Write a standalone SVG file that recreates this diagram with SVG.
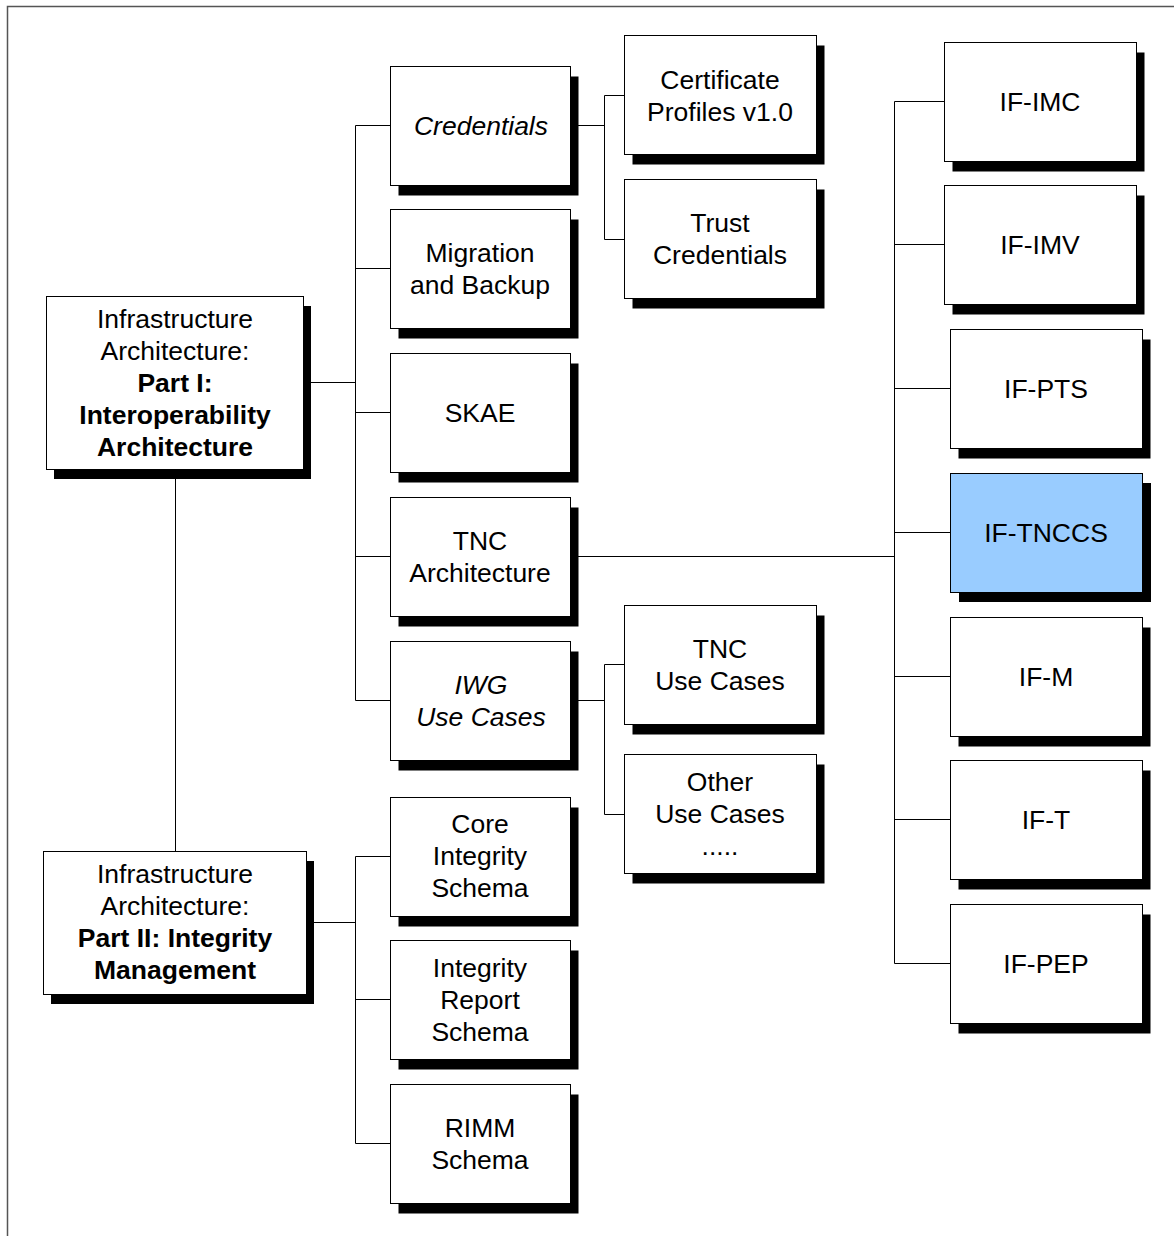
<svg xmlns="http://www.w3.org/2000/svg" width="1174" height="1236" viewBox="0 0 1174 1236">
  <style>
    .box { fill: #ffffff; stroke: #000000; stroke-width: 1; }
    .hl { fill: #99ccff; }
    .shadow { fill: #000000; }
    .wire { fill: none; stroke: #000000; stroke-width: 1; }
    text { font-family: "Liberation Sans", Arial, sans-serif; font-size: 26.5px; fill: #000000; text-anchor: middle; }
    .b { font-weight: bold; }
    .i { font-style: italic; }
  </style>
  <defs>
    <!-- standard node: shadow + white box, 180x119 -->
    <g id="mid">
      <rect class="shadow" x="8" y="10" width="180" height="119"/>
      <rect class="box" x="0" y="0" width="180" height="119"/>
    </g>
    <!-- wider node, 192x119 -->
    <g id="wide">
      <rect class="shadow" x="8" y="10" width="192" height="119"/>
      <rect class="box" x="0" y="0" width="192" height="119"/>
    </g>
  </defs>

  <rect width="1174" height="1236" fill="#ffffff"/>
  <!-- page frame -->
  <path d="M7.5 1236 V6.5 H1174" fill="none" stroke="#555555" stroke-width="1.5"/>

  <!-- connectors -->
  <g id="connectors">
    <path class="wire" d="M175.5 469 V851"/>
    <path class="wire" d="M303 382.5 H355.5 M355.5 125.5 V700.5 M355.5 125.5 H390 M355.5 268.5 H390 M355.5 412.5 H390 M355.5 556.5 H390 M355.5 700.5 H390"/>
    <path class="wire" d="M306 922.5 H355.5 M355.5 856.5 V1143.5 M355.5 856.5 H390 M355.5 999.5 H390 M355.5 1143.5 H390"/>
    <path class="wire" d="M570 125.5 H604.5 M604.5 95.5 V239.5 M604.5 95.5 H624 M604.5 239.5 H624"/>
    <path class="wire" d="M570 700.5 H604.5 M604.5 664.5 V814.5 M604.5 664.5 H624 M604.5 814.5 H624"/>
    <path class="wire" d="M570 556.5 H894.5 M894.5 101.5 V963.5 M894.5 101.5 H944 M894.5 244.5 H944 M894.5 388.5 H950 M894.5 532.5 H951 M894.5 676.5 H950 M894.5 819.5 H950 M894.5 963.5 H951"/>
  </g>

  <!-- root nodes -->
  <g id="part1">
    <rect class="shadow" x="54" y="306" width="257" height="173"/>
    <rect class="box" x="46.5" y="296.5" width="257" height="173"/>
    <text x="175" y="328">Infrastructure</text>
    <text x="175" y="360">Architecture:</text>
    <text class="b" x="175" y="392">Part I:</text>
    <text class="b" x="175" y="424">Interoperability</text>
    <text class="b" x="175" y="456">Architecture</text>
  </g>
  <g id="part2">
    <rect class="shadow" x="51" y="861" width="263" height="143"/>
    <rect class="box" x="43.5" y="851.5" width="263" height="143"/>
    <text x="175" y="883">Infrastructure</text>
    <text x="175" y="915">Architecture:</text>
    <text class="b" x="175" y="947">Part II: Integrity</text>
    <text class="b" x="175" y="979">Management</text>
  </g>

  <!-- Part I children -->
  <g id="credentials">
    <use href="#mid" x="390.5" y="66.5"/>
    <text class="i" x="481" y="135">Credentials</text>
  </g>
  <g id="migration">
    <use href="#mid" x="390.5" y="209.5"/>
    <text x="480" y="262">Migration</text>
    <text x="480" y="294">and Backup</text>
  </g>
  <g id="skae">
    <use href="#mid" x="390.5" y="353.5"/>
    <text x="480" y="422">SKAE</text>
  </g>
  <g id="tnc-arch">
    <use href="#mid" x="390.5" y="497.5"/>
    <text x="480" y="550">TNC</text>
    <text x="480" y="582">Architecture</text>
  </g>
  <g id="iwg">
    <use href="#mid" x="390.5" y="641.5"/>
    <text class="i" x="481" y="694">IWG</text>
    <text class="i" x="481" y="726">Use Cases</text>
  </g>

  <!-- Part II children -->
  <g id="core-schema">
    <use href="#mid" x="390.5" y="797.5"/>
    <text x="480" y="833">Core</text>
    <text x="480" y="865">Integrity</text>
    <text x="480" y="897">Schema</text>
  </g>
  <g id="report-schema">
    <use href="#mid" x="390.5" y="940.5"/>
    <text x="480" y="977">Integrity</text>
    <text x="480" y="1009">Report</text>
    <text x="480" y="1041">Schema</text>
  </g>
  <g id="rimm-schema">
    <use href="#mid" x="390.5" y="1084.5"/>
    <text x="480" y="1137">RIMM</text>
    <text x="480" y="1169">Schema</text>
  </g>

  <!-- Credentials children -->
  <g id="cert-profiles">
    <use href="#wide" x="624.5" y="35.5"/>
    <text x="720" y="89">Certificate</text>
    <text x="720" y="121">Profiles v1.0</text>
  </g>
  <g id="trust-credentials">
    <use href="#wide" x="624.5" y="179.5"/>
    <text x="720" y="232">Trust</text>
    <text x="720" y="264">Credentials</text>
  </g>

  <!-- IWG children -->
  <g id="tnc-use-cases">
    <use href="#wide" x="624.5" y="605.5"/>
    <text x="720" y="658">TNC</text>
    <text x="720" y="690">Use Cases</text>
  </g>
  <g id="other-use-cases">
    <use href="#wide" x="624.5" y="754.5"/>
    <text x="720" y="791">Other</text>
    <text x="720" y="823">Use Cases</text>
    <text x="720" y="855">.....</text>
  </g>

  <!-- TNC interface specifications -->
  <g id="if-imc">
    <use href="#wide" x="944.5" y="42.5"/>
    <text x="1040" y="111">IF-IMC</text>
  </g>
  <g id="if-imv">
    <use href="#wide" x="944.5" y="185.5"/>
    <text x="1040" y="254">IF-IMV</text>
  </g>
  <g id="if-pts">
    <use href="#wide" x="950.5" y="329.5"/>
    <text x="1046" y="398">IF-PTS</text>
  </g>
  <g id="if-tnccs">
    <rect class="shadow" x="959" y="483" width="192" height="119"/>
    <rect class="box hl" x="950.5" y="473.5" width="192" height="119"/>
    <text x="1046" y="542">IF-TNCCS</text>
  </g>
  <g id="if-m">
    <use href="#wide" x="950.5" y="617.5"/>
    <text x="1046" y="686">IF-M</text>
  </g>
  <g id="if-t">
    <use href="#wide" x="950.5" y="760.5"/>
    <text x="1046" y="829">IF-T</text>
  </g>
  <g id="if-pep">
    <use href="#wide" x="950.5" y="904.5"/>
    <text x="1046" y="973">IF-PEP</text>
  </g>
</svg>
